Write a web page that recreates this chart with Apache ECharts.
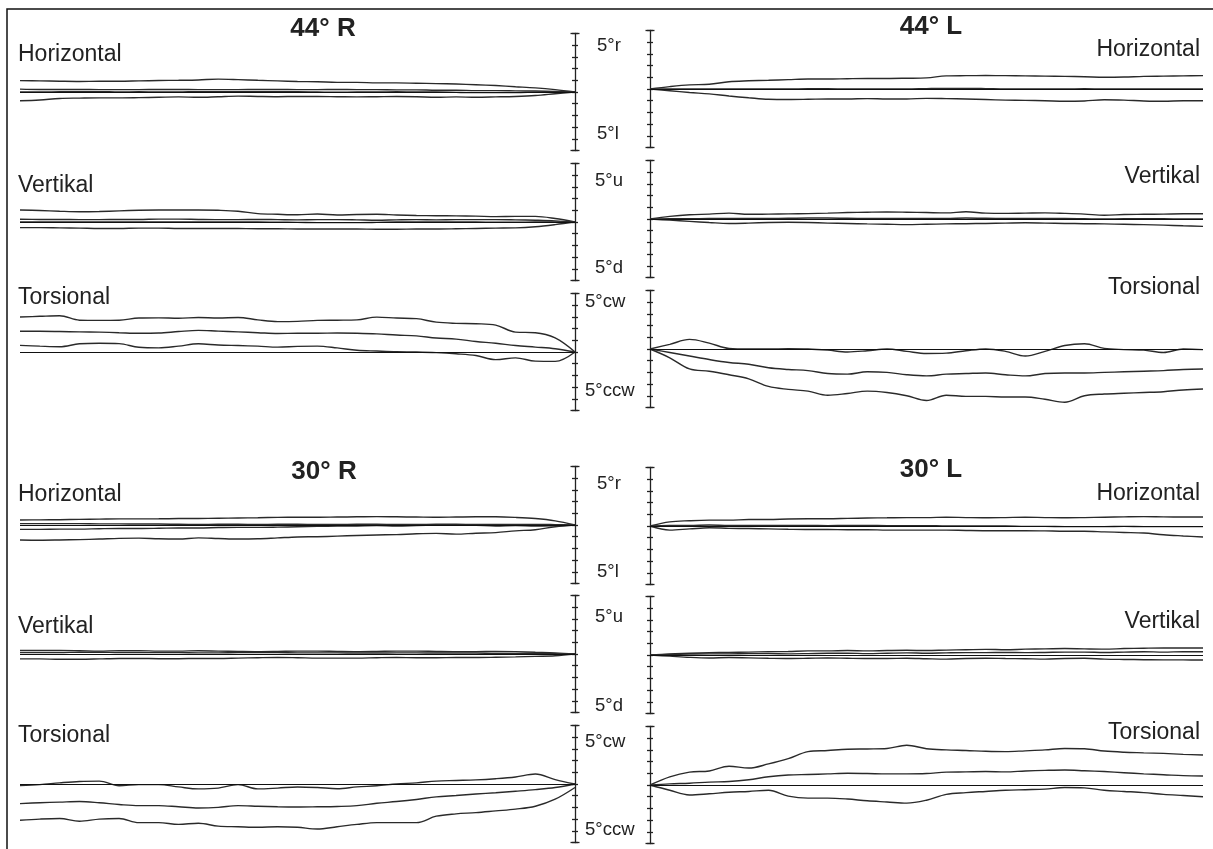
<!DOCTYPE html>
<html><head><meta charset="utf-8">
<script src="https://cdn.jsdelivr.net/npm/echarts@6/dist/echarts.min.js"></script>
<style>html,body{margin:0;padding:0;background:#fff}#c{width:1213px;height:849px}</style>
</head><body><div id="c"></div>
<script>
// sample index along time (0 = at the axis)
const t = [0,1,2,3,4,5,6,7,8,9,10,11,12,13,14,15,16,17,18,19,20,21,22,23,24,25,26,27,28];

// 44° R Horizontal
const r44H_1 = [0,0.2,0.35,0.45,0.55,0.62,0.68,0.72,0.75,0.78,0.78,0.82,0.82,0.88,0.9,0.95,1.0,1.06,1.1,1.03,1.0,0.98,0.95,0.92,0.92,0.9,0.92,0.95,0.97];
const r44H_2 = [0,0.05,0.08,0.1,0.12,0.12,0.15,0.15,0.18,0.18,0.2,0.2,0.22,0.2,0.2,0.22,0.22,0.2,0.2,0.2,0.22,0.22,0.2,0.2,0.2,0.22,0.22,0.22,0.25];
const r44H_3 = [0,0,-0.02,-0.05,-0.05,-0.05,-0.03,0,0,0.02,0,0,-0.02,0,0.02,0.02,0.03,0.02,0.03,0.03,0,0,0.02,0,0.03,0.03,0.02,0,0];
const r44H_4 = [0,-0.15,-0.3,-0.38,-0.42,-0.45,-0.42,-0.45,-0.4,-0.38,-0.4,-0.42,-0.4,-0.38,-0.38,-0.4,-0.38,-0.35,-0.4,-0.45,-0.42,-0.45,-0.48,-0.5,-0.5,-0.52,-0.55,-0.68,-0.75];
// 44° L Horizontal
const l44H_1 = [0,0.2,0.35,0.4,0.62,0.7,0.75,0.8,0.85,0.85,0.88,0.9,0.9,0.92,0.95,1.12,1.14,1.15,1.14,1.12,1.1,1.08,1.05,1.0,1.02,1.08,1.1,1.12,1.14];
const l44H_2 = [0,0,0,0,0,0,0,0,0.02,0.02,0,0,0,0,0.03,0.05,0.05,0.03,0,0,0,0,0.02,0,0,0,0,0,0];
const l44H_3 = [0,-0.15,-0.3,-0.42,-0.6,-0.75,-0.88,-0.9,-0.88,-0.85,-0.85,-0.82,-0.85,-0.85,-0.8,-0.82,-0.85,-0.9,-0.95,-0.97,-1.0,-1.05,-1.02,-0.92,-0.95,-1.02,-1.05,-1.0,-1.0];
// 44° R Vertikal
const r44V_1 = [0,0.3,0.48,0.48,0.46,0.5,0.52,0.54,0.56,0.6,0.66,0.64,0.6,0.68,0.62,0.66,0.72,0.92,1.0,1.03,1.02,1.02,1.0,0.95,0.9,0.88,0.92,0.98,1.03];
const r44V_2 = [0,0.1,0.15,0.18,0.2,0.2,0.2,0.18,0.2,0.18,0.15,0.18,0.2,0.2,0.18,0.2,0.22,0.2,0.2,0.22,0.25,0.25,0.22,0.22,0.2,0.2,0.22,0.22,0.23];
const r44V_3 = [0,0,0,-0.02,-0.02,0,0,0,0,0,-0.03,-0.05,-0.05,-0.05,-0.03,-0.02,0,0,0,0,0,0,0,0,0,0,0,0,0];
const r44V_4 = [0,-0.22,-0.4,-0.5,-0.52,-0.55,-0.58,-0.6,-0.6,-0.62,-0.62,-0.6,-0.6,-0.6,-0.6,-0.58,-0.58,-0.56,-0.55,-0.55,-0.55,-0.52,-0.52,-0.55,-0.55,-0.52,-0.5,-0.48,-0.48];
// 44° L Vertikal
const l44V_1 = [0,0.22,0.36,0.42,0.5,0.4,0.42,0.44,0.46,0.5,0.55,0.58,0.6,0.58,0.55,0.52,0.62,0.5,0.48,0.5,0.52,0.48,0.42,0.32,0.38,0.4,0.42,0.45,0.45];
const l44V_2 = [0,0.02,0.02,0.05,0.05,0.05,0.05,0.06,0.08,0.08,0.06,0.05,0.05,0.05,0.05,0.05,0.08,0.06,0.05,0.05,0.04,0.04,0.02,0,0.02,0.02,0.02,0,0];
const l44V_3 = [0,-0.1,-0.2,-0.3,-0.38,-0.35,-0.3,-0.28,-0.3,-0.35,-0.38,-0.42,-0.45,-0.48,-0.45,-0.42,-0.4,-0.38,-0.35,-0.32,-0.35,-0.38,-0.4,-0.42,-0.45,-0.48,-0.52,-0.58,-0.63];
// 44° R Torsional
const r44T_1 = [0,1.2,1.65,1.7,2.3,2.42,2.45,2.55,2.85,2.9,2.98,2.75,2.72,2.7,2.62,2.6,2.75,2.95,2.9,2.95,2.88,2.92,2.9,2.72,2.7,2.72,3.1,3.05,2.99];
const r44T_2 = [0,0.28,0.42,0.55,0.75,0.9,1.1,1.2,1.38,1.45,1.55,1.6,1.62,1.6,1.6,1.58,1.65,1.72,1.78,1.85,1.75,1.62,1.6,1.65,1.7,1.72,1.75,1.77,1.77];
const r44T_3 = [0,-0.8,-0.78,-0.5,-0.65,-0.3,-0.15,-0.05,0,0.02,0.08,0.15,0.35,0.5,0.48,0.42,0.5,0.55,0.6,0.7,0.5,0.35,0.4,0.72,0.75,0.7,0.45,0.5,0.57];
// 44° L Torsional
const l44T_1 = [0,0.4,0.82,0.5,0.05,0,0,0.02,0,-0.1,-0.25,-0.15,0,-0.2,-0.38,-0.35,-0.15,0,-0.2,-0.6,-0.2,0.3,0.45,0.05,-0.05,-0.1,-0.3,0,-0.05];
const l44T_2 = [0,-0.3,-0.6,-0.9,-1.15,-1.3,-1.6,-1.75,-1.85,-2.1,-2.15,-1.95,-2.0,-2.2,-2.3,-2.15,-2.1,-2.05,-2.2,-2.3,-2.1,-2.05,-2.05,-2.0,-1.95,-1.9,-1.85,-1.75,-1.71];
const l44T_3 = [0,-0.75,-1.7,-1.9,-2.2,-2.55,-3.2,-3.45,-3.6,-3.95,-3.8,-3.6,-3.72,-4.0,-4.4,-3.95,-4.05,-4.05,-4.1,-4.1,-4.3,-4.55,-4.0,-3.85,-3.78,-3.72,-3.65,-3.5,-3.42];
// 30° R Horizontal
const r30H_1 = [0,0.35,0.55,0.65,0.7,0.7,0.68,0.66,0.68,0.7,0.72,0.7,0.68,0.66,0.66,0.65,0.62,0.6,0.58,0.56,0.55,0.53,0.52,0.52,0.5,0.48,0.45,0.44,0.43];
const r30H_2 = [0,0.03,0.05,0.05,0.05,0.05,0.06,0.06,0.05,0.05,0.06,0.06,0.05,0.05,0.06,0.06,0.05,0.06,0.06,0.05,0.06,0.08,0.08,0.1,0.1,0.12,0.12,0.12,0.12];
const r30H_3 = [0,-0.05,-0.08,-0.05,-0.08,-0.02,0,-0.02,-0.05,-0.08,-0.05,-0.08,-0.1,-0.12,-0.15,-0.18,-0.2,-0.2,-0.22,-0.25,-0.25,-0.28,-0.3,-0.3,-0.32,-0.35,-0.35,-0.37,-0.37];
const r30H_4 = [0,-0.15,-0.4,-0.5,-0.65,-0.7,-0.78,-0.72,-0.75,-0.82,-0.85,-0.9,-0.95,-1.0,-1.02,-1.1,-1.18,-1.2,-1.15,-1.1,-1.2,-1.18,-1.12,-1.14,-1.2,-1.25,-1.28,-1.3,-1.28];
// 30° L Horizontal
const l30H_1 = [0,0.35,0.45,0.5,0.5,0.55,0.55,0.6,0.62,0.62,0.65,0.68,0.7,0.72,0.72,0.75,0.72,0.7,0.72,0.75,0.72,0.7,0.72,0.75,0.78,0.8,0.78,0.77,0.77];
const l30H_2 = [0,0.05,0.05,0.08,0.05,0.05,0.05,0.05,0.05,0.03,0.05,0.05,0.03,0.03,0.03,0,0,0,0,-0.03,-0.03,-0.05,-0.05,-0.05,-0.03,-0.05,-0.05,-0.05,-0.05];
const l30H_3 = [0,-0.35,-0.25,-0.15,-0.2,-0.22,-0.25,-0.28,-0.3,-0.3,-0.32,-0.32,-0.35,-0.35,-0.35,-0.35,-0.38,-0.4,-0.4,-0.4,-0.42,-0.45,-0.45,-0.5,-0.55,-0.6,-0.75,-0.85,-0.94];
// 30° R Vertikal
const r30V_1 = [0,0.1,0.15,0.2,0.22,0.2,0.2,0.22,0.25,0.25,0.22,0.2,0.22,0.25,0.25,0.22,0.2,0.22,0.25,0.28,0.25,0.25,0.28,0.28,0.25,0.28,0.3,0.3,0.3];
const r30V_2 = [0,0.02,0.05,0.05,0.05,0.08,0.08,0.08,0.1,0.1,0.08,0.08,0.1,0.1,0.1,0.12,0.12,0.12,0.1,0.1,0.12,0.12,0.12,0.12,0.15,0.15,0.12,0.12,0.12];
const r30V_3 = [0,-0.15,-0.2,-0.25,-0.28,-0.3,-0.3,-0.32,-0.32,-0.3,-0.32,-0.35,-0.35,-0.35,-0.32,-0.3,-0.32,-0.35,-0.38,-0.38,-0.4,-0.4,-0.38,-0.38,-0.42,-0.45,-0.45,-0.42,-0.42];
// 30° L Vertikal
const l30V_1 = [0,0.1,0.15,0.2,0.22,0.25,0.28,0.3,0.35,0.35,0.38,0.35,0.38,0.4,0.38,0.42,0.45,0.48,0.45,0.5,0.52,0.55,0.52,0.5,0.55,0.58,0.6,0.6,0.6];
const l30V_2 = [0,0.05,0.08,0.1,0.1,0.12,0.12,0.1,0.12,0.15,0.15,0.12,0.15,0.18,0.15,0.18,0.2,0.2,0.22,0.2,0.22,0.25,0.25,0.22,0.25,0.28,0.25,0.28,0.28];
const l30V_3 = [0,-0.1,-0.2,-0.25,-0.22,-0.25,-0.28,-0.3,-0.28,-0.25,-0.28,-0.3,-0.3,-0.28,-0.32,-0.35,-0.3,-0.28,-0.3,-0.32,-0.35,-0.3,-0.28,-0.35,-0.38,-0.4,-0.42,-0.42,-0.43];
// 30° R Torsional
const r30T_1 = [0,0.38,0.85,0.6,0.45,0.35,0.3,0.25,0.1,0,-0.15,-0.25,-0.4,-0.3,-0.25,-0.35,-0.42,-0.05,-0.35,-0.42,-0.25,-0.05,-0.05,-0.15,0.25,0.22,0.1,-0.05,-0.14];
const r30T_2 = [0,-0.3,-0.48,-0.62,-0.75,-0.85,-0.98,-1.1,-1.32,-1.5,-1.65,-1.85,-1.92,-1.95,-1.97,-1.95,-1.9,-1.85,-2.0,-2.05,-1.95,-1.85,-1.85,-1.75,-1.6,-1.5,-1.55,-1.6,-1.68];
const r30T_3 = [-0.3,-1.3,-1.9,-2.15,-2.3,-2.45,-2.55,-2.75,-3.3,-3.3,-3.3,-3.45,-3.65,-3.85,-3.7,-3.65,-3.7,-3.65,-3.6,-3.35,-3.45,-3.3,-3.3,-2.95,-3.0,-3.19,-2.95,-3.0,-3.1];
// 30° L Torsional
const l30T_1 = [0,0.7,1.1,1.2,1.6,1.45,1.8,2.25,2.85,2.95,3.05,3.08,3.12,3.4,3.1,3.0,2.95,2.88,2.85,2.92,3.0,3.12,3.1,2.9,2.8,2.75,2.7,2.62,2.56];
const l30T_2 = [0,0.1,0.15,0.25,0.3,0.45,0.7,0.85,0.9,0.95,1.0,0.98,0.95,0.95,0.98,1.1,1.12,1.15,1.12,1.2,1.25,1.28,1.22,1.15,1.05,0.95,0.88,0.8,0.77];
const l30T_3 = [0,-0.45,-0.85,-0.75,-0.62,-0.55,-0.45,-0.95,-1.12,-1.12,-1.2,-1.35,-1.45,-1.55,-1.3,-0.8,-0.65,-0.55,-0.45,-0.4,-0.35,-0.22,-0.25,-0.45,-0.55,-0.65,-0.8,-0.9,-1.0];

const yMin = -5, yMax = 5, yStep = 1;

// panel layout: side, top of axis (px), traces
const panels = [
  {side:'R', top:33.5,  traces:[r44H_1,r44H_2,r44H_3,r44H_4]},
  {side:'L', top:30.5,  traces:[l44H_1,l44H_2,l44H_3]},
  {side:'R', top:163.5, traces:[r44V_1,r44V_2,r44V_3,r44V_4]},
  {side:'L', top:160.5, traces:[l44V_1,l44V_2,l44V_3]},
  {side:'R', top:293.5, traces:[r44T_1,r44T_2,r44T_3]},
  {side:'L', top:290.5, traces:[l44T_1,l44T_2,l44T_3]},
  {side:'R', top:466.5, traces:[r30H_1,r30H_2,r30H_3,r30H_4]},
  {side:'L', top:467.5, traces:[l30H_1,l30H_2,l30H_3]},
  {side:'R', top:595.5, traces:[r30V_1,r30V_2,r30V_3]},
  {side:'L', top:596.5, traces:[l30V_1,l30V_2,l30V_3]},
  {side:'R', top:725.5, traces:[r30T_1,r30T_2,r30T_3]},
  {side:'L', top:726.5, traces:[l30T_1,l30T_2,l30T_3]}
];

const grid = [], xAxis = [], yAxis = [], series = [];
panels.forEach((p, g) => {
  const isR = p.side === 'R';
  grid.push(isR ? {left:20, width:555, top:p.top, height:117} : {left:650, width:553, top:p.top, height:117});
  xAxis.push({type:'value', gridIndex:g, min:0, max:t[t.length-1], inverse:isR, show:false});
  const base = {type:'value', gridIndex:g, min:yMin, max:yMax, interval:yStep, position:isR?'right':'left',
    axisLabel:{show:false}, splitLine:{show:false}};
  yAxis.push(Object.assign({}, base, {axisLine:{show:true, lineStyle:{color:'#222', width:1.3}},
    axisTick:{show:true, inside:false, length:3, lineStyle:{color:'#222', width:1.3}}}));
  yAxis.push(Object.assign({}, base, {axisLine:{show:false},
    axisTick:{show:true, inside:true, length:3, lineStyle:{color:'#222', width:1.3}}}));
  yAxis.push(Object.assign({}, base, {axisLine:{show:false},
    axisTick:{show:true, inside:false, length:4.5, customValues:[yMin,yMax], lineStyle:{color:'#222', width:1.3}}}));
  yAxis.push(Object.assign({}, base, {axisLine:{show:false},
    axisTick:{show:true, inside:true, length:4.5, customValues:[yMin,yMax], lineStyle:{color:'#222', width:1.3}}}));
  p.traces.forEach((tr, k) => {
    const s = {type:'line', xAxisIndex:g, yAxisIndex:g*4, showSymbol:false, smooth:0.35, silent:true,
      lineStyle:{color:'#2a2a2a', width:1.4},
      data: t.map((x,i)=>[x, tr[i]])};
    if (k === 0) s.markLine = {silent:true, symbol:'none', label:{show:false},
      lineStyle:{color:'#111', type:'solid', width:1.1}, data:[{yAxis:0}]};
    series.push(s);
  });
});

const txtC = '#222';
const F = '"Liberation Sans", Arial, sans-serif';
function T(text, x, y, size, align, bold){
  return {type:'text', x:x, y:y, silent:true, style:{text:text, fill:txtC, fontSize:size, fontFamily:F,
    fontWeight: bold?'bold':'normal', align:align, verticalAlign:'middle'}};
}
const graphic = [
  {type:'rect', shape:{x:7, y:9, width:1220, height:860}, style:{fill:'none', stroke:'#111', lineWidth:1.5}, silent:true},
  T('44° R', 323, 29, 26, 'center', true),
  T('44° L', 931, 27, 26, 'center', true),
  T('30° R', 324, 472, 26, 'center', true),
  T('30° L', 931, 470, 26, 'center', true),
  T('Horizontal', 18, 55, 23, 'left'),
  T('Vertikal', 18, 186, 23, 'left'),
  T('Torsional', 18, 298, 23, 'left'),
  T('Horizontal', 18, 495, 23, 'left'),
  T('Vertikal', 18, 627, 23, 'left'),
  T('Torsional', 18, 736, 23, 'left'),
  T('Horizontal', 1200, 50, 23, 'right'),
  T('Vertikal', 1200, 177, 23, 'right'),
  T('Torsional', 1200, 288, 23, 'right'),
  T('Horizontal', 1200, 494, 23, 'right'),
  T('Vertikal', 1200, 622, 23, 'right'),
  T('Torsional', 1200, 733, 23, 'right'),
  T('5°r', 597, 46, 18.5, 'left'),
  T('5°l', 597, 134, 18.5, 'left'),
  T('5°u', 595, 181, 18.5, 'left'),
  T('5°d', 595, 268, 18.5, 'left'),
  T('5°cw', 585, 302, 18.5, 'left'),
  T('5°ccw', 585, 391, 18.5, 'left'),
  T('5°r', 597, 484, 18.5, 'left'),
  T('5°l', 597, 572, 18.5, 'left'),
  T('5°u', 595, 617, 18.5, 'left'),
  T('5°d', 595, 706, 18.5, 'left'),
  T('5°cw', 585, 742, 18.5, 'left'),
  T('5°ccw', 585, 830, 18.5, 'left')
];

const chart = echarts.init(document.getElementById('c'), null, {renderer:'canvas'});
chart.setOption({animation:false, backgroundColor:'#fff', grid, xAxis, yAxis, series, graphic});
</script>
</body></html>
